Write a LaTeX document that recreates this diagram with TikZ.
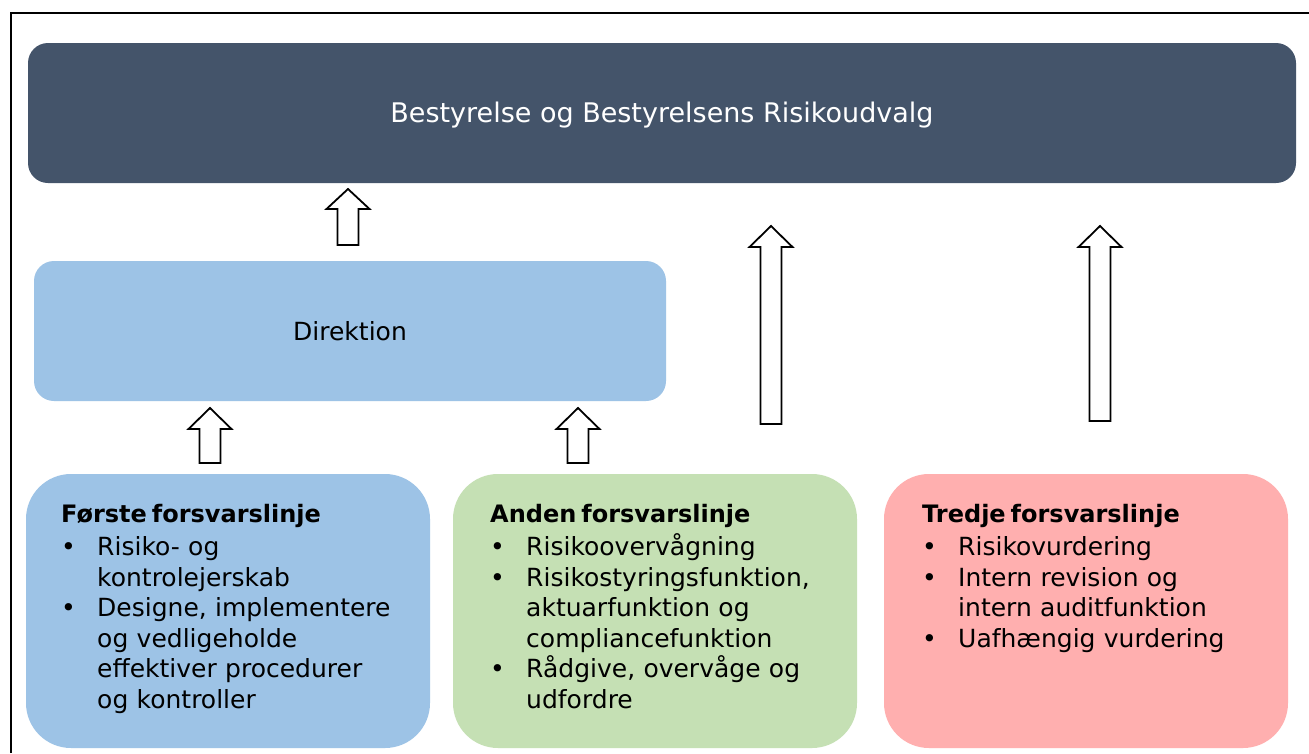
\documentclass[tikz,border=0pt]{standalone}
\usepackage{fontspec}
\setmainfont{DejaVu Sans}
\definecolor{boardc}{HTML}{44546A}
\definecolor{bluec}{HTML}{9DC3E6}
\definecolor{greenc}{HTML}{C5E0B4}
\definecolor{redc}{HTML}{FFAFAF}
\newcommand\blockarrowup[4]{%
  \draw[blockarr] (#1-10.5,#2) -- (#1-10.5,#3) -- (#1-21.5,#3) -- (#1,#4)
    -- (#1+21.5,#3) -- (#1+10.5,#3) -- (#1+10.5,#2) -- cycle;}
\newcommand\bul{\makebox[36pt][l]{•}}
\newcommand\ind{\hspace*{36pt}}
\newcommand\head[1]{{\fontsize{24}{30.5}\selectfont\bfseries\spaceskip=5pt #1}}
\tikzset{
  blockarr/.style={draw=black, fill=white, line width=1.8pt, line join=miter},
  bigbox/.style={rounded corners=20pt, inner sep=0pt, text=black},
  linebox/.style={rounded corners=45pt, inner sep=0pt, minimum width=404pt, minimum height=274pt},
  listtext/.style={anchor=base west, inner sep=0pt, text width=380pt, align=left,
    font=\fontsize{25}{30.5}\selectfont}
}
\begin{document}
\begin{tikzpicture}[x=1pt,y=-1pt]
\useasboundingbox (0,0) rectangle (1309,753);
\fill[white] (0,0) rectangle (1309,753);
\draw[line width=2pt] (11,753) -- (11,12.5) -- (1309,12.5);
\node[bigbox, fill=boardc, minimum width=1268pt, minimum height=140pt] (board) at (662,113) {};
\node[text=white, font=\fontsize{27}{32}\selectfont, inner sep=0pt] (boardtext) at (662,115)
  {Bestyrelse og Bestyrelsens Risikoudvalg};
\node[bigbox, fill=bluec, minimum width=632pt, minimum height=140pt,
  font=\fontsize{25}{30}\selectfont] (dir) at (350,331) {Direktion};
\node[linebox, fill=bluec] (l1) at (228,611) {};
\node[linebox, fill=greenc] (l2) at (655,611) {};
\node[linebox, fill=redc] (l3) at (1086,611) {};
\node[listtext] (t1) at (61,522) {\head{Første forsvarslinje}\\[3pt]
  \bul Risiko- og\\ \ind kontrolejerskab\\
  \bul Designe, implementere\\ \ind og vedligeholde\\ \ind effektiver procedurer\\ \ind og kontroller};
\node[listtext] (t2) at (490,522) {\head{Anden forsvarslinje}\\[3pt]
  \bul Risikoovervågning\\
  \bul Risikostyringsfunktion,\\ \ind aktuarfunktion og\\ \ind compliancefunktion\\
  \bul Rådgive, overvåge og\\ \ind udfordre};
\node[listtext] (t3) at (922,522) {\head{Tredje forsvarslinje}\\[3pt]
  \bul Risikovurdering\\
  \bul Intern revision og\\ \ind intern auditfunktion\\
  \bul Uafhængig vurdering};
\blockarrowup{348}{245}{209}{189}
\blockarrowup{210}{463}{429}{408}
\blockarrowup{578}{463}{429}{408}
\blockarrowup{771}{424}{247}{226}
\blockarrowup{1100}{421}{247}{226}
\end{tikzpicture}
\end{document}
